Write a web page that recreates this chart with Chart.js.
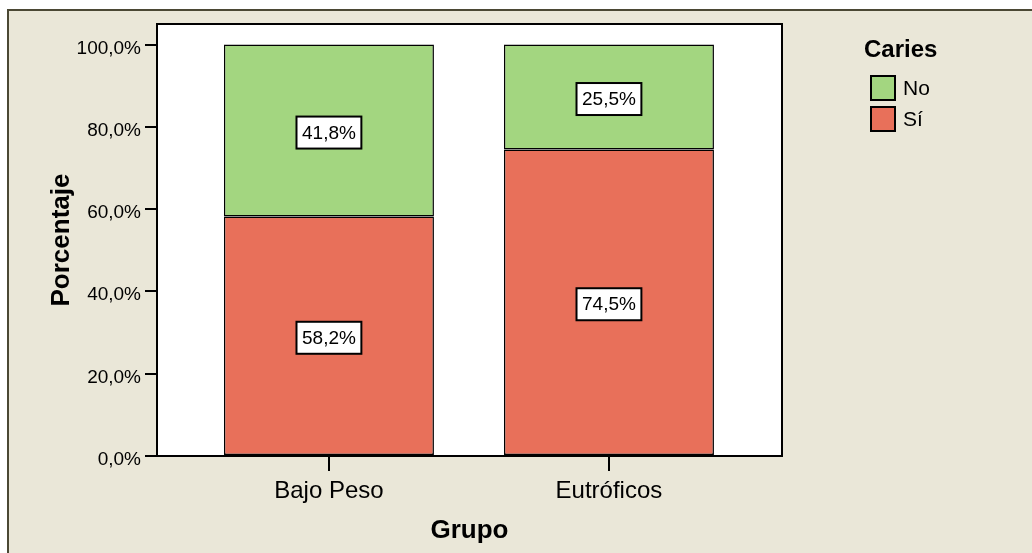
<!DOCTYPE html>
<html lang="es">
<head>
<meta charset="UTF-8">
<title>Caries por grupo</title>
<script src="https://cdn.jsdelivr.net/npm/chart.js"></script>
<style>
  html, body { margin: 0; padding: 0; background: #fff; }
  #caja { width: 1032px; height: 553px; }
</style>
</head>
<body>
<div id="caja"><canvas id="grafico"></canvas></div>

<script>
  // datos
  const categorias = ['Bajo Peso', 'Eutróficos'];
  const valoresSi = [58.2, 74.5];
  const valoresNo = [41.8, 25.5];
  const ticksY = [0, 20, 40, 60, 80, 100];
  const tituloLeyenda = 'Caries';

  const fuente = "'Liberation Sans', Arial, sans-serif";
  const beige = '#EAE7D8';
  const verde = '#A3D680';
  const rojo = '#E8705A';

  // formato 58,2%
  const fmt = v => Number(v).toFixed(1).replace('.', ',') + '%';

  // fondo beige, marco y area blanca del grafico
  const fondo = {
    id: 'fondo',
    beforeDraw(chart) {
      const { ctx, chartArea: a, width, height } = chart;
      ctx.save();
      ctx.fillStyle = '#fff';
      ctx.fillRect(0, 0, width, height);
      ctx.fillStyle = beige;
      ctx.fillRect(8, 10, width - 8, height - 10);
      ctx.strokeStyle = '#4B4834';
      ctx.lineWidth = 2;
      ctx.beginPath();
      ctx.moveTo(8, height);
      ctx.lineTo(8, 10);
      ctx.lineTo(width, 10);
      ctx.stroke();
      ctx.fillStyle = '#fff';
      ctx.fillRect(a.left, a.top, a.right - a.left, a.bottom - a.top);
      ctx.restore();
    },
    beforeDatasetsDraw(chart) {
      const { ctx, chartArea: a } = chart;
      ctx.save();
      ctx.strokeStyle = '#000';
      ctx.lineWidth = 2;
      ctx.strokeRect(a.left, a.top, a.right - a.left, a.bottom - a.top);
      ctx.restore();
    }
  };

  // etiquetas con caja blanca dentro de cada segmento
  const etiquetas = {
    id: 'etiquetas',
    afterDatasetsDraw(chart) {
      const ctx = chart.ctx;
      ctx.save();
      ctx.font = '19px ' + fuente;
      ctx.textAlign = 'center';
      ctx.textBaseline = 'middle';
      chart.data.datasets.forEach((ds, di) => {
        chart.getDatasetMeta(di).data.forEach((barra, i) => {
          const { x, y, base } = barra.getProps(['x', 'y', 'base'], true);
          const cy = (y + base) / 2 + 2;
          const txt = fmt(ds.data[i].y);
          const w = ctx.measureText(txt).width + 11;
          const h = 32;
          ctx.fillStyle = '#fff';
          ctx.fillRect(x - w / 2, cy - h / 2, w, h);
          ctx.strokeStyle = '#000';
          ctx.lineWidth = 2;
          ctx.strokeRect(x - w / 2, cy - h / 2, w, h);
          ctx.fillStyle = '#000';
          ctx.fillText(txt, x, cy + 1);
        });
      });
      ctx.restore();
    }
  };

  // leyenda a la derecha (No arriba, Sí abajo)
  const leyenda = {
    id: 'leyenda',
    afterDraw(chart) {
      const ctx = chart.ctx;
      ctx.save();
      ctx.fillStyle = '#000';
      ctx.font = 'bold 24px ' + fuente;
      ctx.textBaseline = 'alphabetic';
      ctx.fillText(tituloLeyenda, 864, 57);
      const items = chart.data.datasets.slice().reverse();
      items.forEach((ds, i) => {
        const y = 75 + i * 31;
        ctx.fillStyle = ds.backgroundColor;
        ctx.fillRect(870, y, 26, 26);
        ctx.strokeStyle = '#000';
        ctx.lineWidth = 2;
        ctx.strokeRect(871, y + 1, 24, 24);
        ctx.fillStyle = '#000';
        ctx.font = '21px ' + fuente;
        ctx.textBaseline = 'middle';
        ctx.fillText(ds.label, 903, y + 14);
      });
      ctx.restore();
    }
  };

  const dados = {
    datasets: [
      {
        label: 'Sí',
        data: valoresSi.map((v, i) => ({ x: i, y: v })),
        backgroundColor: rojo,
        borderColor: '#000',
        borderWidth: 1.5,
        borderSkipped: false
      },
      {
        label: 'No',
        data: valoresNo.map((v, i) => ({ x: i, y: v })),
        backgroundColor: verde,
        borderColor: '#000',
        borderWidth: 1.5,
        borderSkipped: false
      }
    ]
  };

  const config = {
    type: 'bar',
    data: dados,
    options: {
      responsive: true,
      maintainAspectRatio: false,
      animation: false,
      categoryPercentage: 0.75,
      barPercentage: 1,
      layout: { padding: { left: 8, top: 24, right: 250, bottom: 0 } },
      plugins: {
        legend: { display: false },
        tooltip: { enabled: false }
      },
      scales: {
        x: {
          type: 'linear',
          stacked: true,
          offset: false,
          min: -0.614,
          max: 1.618,
          afterBuildTicks: s => { s.ticks = categorias.map((c, i) => ({ value: i })); },
          afterFit: s => { s.height = 97; },
          grid: { offset: false, drawOnChartArea: false, drawTicks: true, tickLength: 15, color: '#000', lineWidth: 2 },
          border: { display: false },
          ticks: {
            callback: v => categorias[v],
            color: '#000',
            font: { family: fuente, size: 24 },
            padding: 6,
            maxRotation: 0,
            autoSkip: false
          },
          title: {
            display: true,
            text: 'Grupo',
            color: '#000',
            font: { family: fuente, size: 26, weight: 'bold' },
            padding: { top: 0, bottom: 7 }
          }
        },
        y: {
          stacked: true,
          min: 0,
          max: 105,
          afterBuildTicks: s => { s.ticks = ticksY.map(v => ({ value: v })); },
          afterFit: s => { s.width = 149; },
          grid: { drawOnChartArea: false, drawTicks: true, tickLength: 12, color: '#000', lineWidth: 2 },
          border: { display: false },
          ticks: {
            // linea vacia para bajar un poco la etiqueta respecto a la marca
            callback: v => ['', fmt(v)],
            color: '#000',
            font: { family: fuente, size: 19, lineHeight: 0.4 },
            padding: 4
          },
          title: {
            display: true,
            text: 'Porcentaje',
            color: '#000',
            font: { family: fuente, size: 26, weight: 'bold' },
            padding: { top: 38, bottom: 0 }
          }
        }
      }
    },
    plugins: [fondo, etiquetas, leyenda]
  };

  new Chart(document.getElementById('grafico'), config);
</script>
</body>
</html>
